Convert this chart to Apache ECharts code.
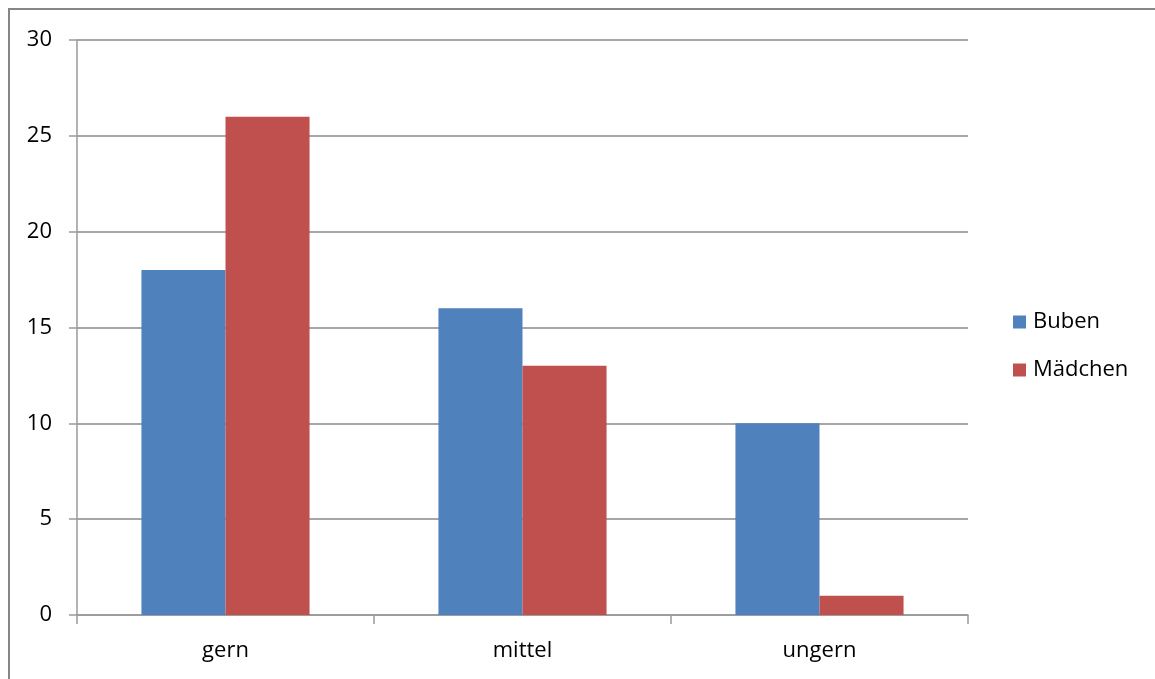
<!DOCTYPE html>
<html>
<head>
<meta charset="utf-8">
<script src="https://cdn.jsdelivr.net/npm/echarts@6/dist/echarts.min.js"></script>
<style>
  html, body { margin: 0; padding: 0; background: #fff; }
  #chart { width: 1155px; height: 679px; }
</style>
</head>
<body>
<div id="chart"></div>
<script>
// Categories and counts per group
const categories = ['gern', 'mittel', 'ungern'];
const buben = [18, 16, 10];
const maedchen = [26, 13, 1];
const yTicks = { min: 0, max: 30, interval: 5 };

const font = "'Open Sans', 'Liberation Sans', sans-serif";
const chart = echarts.init(document.getElementById('chart'));

chart.setOption({
  backgroundColor: '#ffffff',
  animation: false,
  graphic: [
    {
      type: 'polyline',
      shape: { points: [[9, 700], [9, 9], [1200, 9]] },
      style: { stroke: '#868686', lineWidth: 2, fill: null }
    }
  ],
  legend: {
    orient: 'vertical',
    left: 1013,
    top: 311,
    padding: 0,
    itemWidth: 13,
    itemHeight: 13,
    itemGap: 26,
    icon: 'rect',
    textStyle: { fontFamily: font, fontSize: 22, color: '#000', padding: [0, 0, 0, 2] },
    data: ['Buben', 'Mädchen']
  },
  grid: { left: 77, right: 187, top: 40, bottom: 64, containLabel: false },
  xAxis: {
    type: 'category',
    data: categories,
    axisLine: { lineStyle: { color: '#9a9a9a', width: 1.5 } },
    axisTick: { show: true, length: 9, alignWithLabel: false, lineStyle: { color: '#9a9a9a', width: 1.5 } },
    axisLabel: { fontFamily: font, fontSize: 22, color: '#000', margin: 25 },
    splitLine: { show: false }
  },
  yAxis: {
    type: 'value',
    min: yTicks.min,
    max: yTicks.max,
    interval: yTicks.interval,
    axisLine: { show: true, lineStyle: { color: '#9a9a9a', width: 1.5 } },
    axisTick: { show: true, length: 8, lineStyle: { color: '#9a9a9a', width: 1.5 } },
    axisLabel: { fontFamily: font, fontSize: 22, color: '#000', margin: 25 },
    splitLine: { lineStyle: { color: '#888888', width: 1.5 } }
  },
  series: [
    {
      name: 'Buben',
      type: 'bar',
      data: buben,
      barGap: '0%',
      barCategoryGap: '43.4%',
      itemStyle: { color: '#4F81BD' }
    },
    {
      name: 'Mädchen',
      type: 'bar',
      data: maedchen,
      barGap: '0%',
      barCategoryGap: '43.4%',
      itemStyle: { color: '#C0504D' }
    }
  ]
});
</script>
</body>
</html>
